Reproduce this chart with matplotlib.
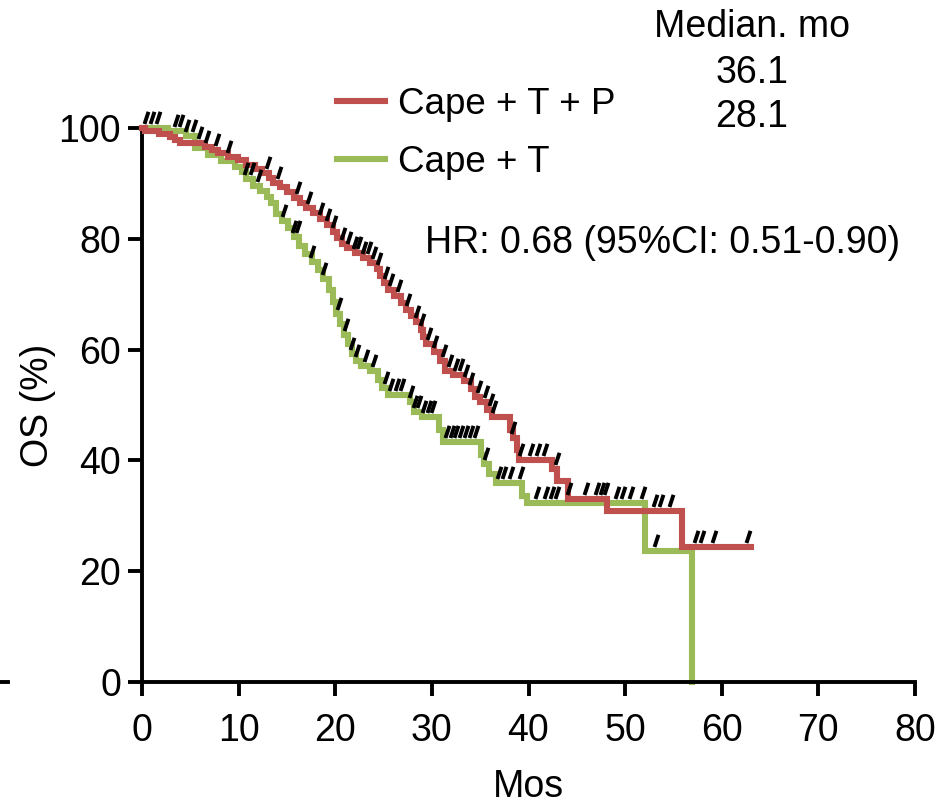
import numpy as np
import matplotlib
matplotlib.use("Agg")
import matplotlib.pyplot as plt
from matplotlib.path import Path
from matplotlib.lines import Line2D

plt.rcParams["font.family"] = ["Liberation Sans", "DejaVu Sans"]

# Kaplan-Meier steps: time of drop (months) and survival (%) after the drop
red_t = [0, 0.3, 1.8, 2.9, 3.4, 3.9, 6.5, 7.2, 7.9, 8.9, 9.9, 10.8, 11.7, 12.4,
         13.1, 13.6, 14.3, 15.0, 15.7, 16.4, 17.0, 17.7, 18.4, 19.1, 19.8, 20.2,
         20.7, 21.2, 22.0, 22.9, 23.6, 24.3, 24.6, 25.0, 25.5, 26.1, 26.8, 27.3,
         27.8, 28.4, 28.9, 29.1, 29.4, 30.2, 30.8, 31.4, 32.2, 33.3, 34.0, 34.5,
         35.0, 35.7, 36.2, 38.1, 38.4, 38.8, 39.0, 42.4, 43.0, 44.1, 48.1, 55.9]
red_s = [100, 99.4, 99.0, 98.4, 97.8, 97.3, 96.6, 96.0, 95.4, 94.8, 94.2, 93.3,
         92.6, 91.8, 91.0, 90.0, 89.3, 88.5, 87.4, 86.5, 85.5, 84.6, 83.6, 82.5,
         81.2, 80.1, 79.0, 78.3, 77.4, 76.5, 75.6, 74.6, 73.2, 72.0, 70.8, 69.7,
         68.5, 67.1, 66.0, 65.0, 63.6, 62.3, 61.0, 59.6, 58.0, 56.1, 55.4, 54.4,
         52.9, 51.4, 50.6, 49.1, 47.8, 45.5, 44.0, 41.8, 40.0, 38.4, 36.3, 33.0,
         30.8, 24.3]
red_end = 63.0
red_cens = [6.0, 6.7, 7.8, 9.0, 13.0, 14.2, 16.1, 17.3, 18.5, 19.2, 19.9, 20.8,
            21.4, 22.0, 22.5, 23.0, 23.5, 24.0, 24.5, 25.3, 25.8, 26.6, 27.5,
            28.5, 29.0, 29.7, 30.3, 31.3, 31.9, 32.5, 33.0, 33.5, 34.0, 34.9,
            35.6, 36.1, 36.4, 38.4, 39.2, 40.3, 41.0, 41.7, 42.9, 44.2, 45.9,
            47.1, 47.6, 48.0, 53.1, 53.7, 54.7, 57.3, 58.0, 59.2, 62.7]

green_t = [0, 2.7, 4.6, 5.5, 6.8, 8.2, 9.6, 10.3, 10.8, 11.5, 12.2, 12.9, 13.4,
           13.9, 14.5, 15.1, 15.7, 16.2, 16.9, 17.6, 18.2, 18.7, 19.4, 19.8,
           20.1, 20.5, 20.9, 21.3, 21.7, 22.1, 22.7, 23.6, 24.4, 24.8, 25.5,
           27.7, 28.1, 29.0, 30.7, 31.1, 35.1, 35.4, 35.9, 36.6, 39.3, 39.8,
           52.1, 56.9]
green_s = [100, 99.4, 98.5, 96.4, 95.2, 94.0, 93.0, 92.0, 90.8, 89.6, 88.6, 87.6,
           86.5, 84.5, 83.2, 81.9, 80.3, 78.7, 77.2, 75.8, 74.4, 72.8, 70.8, 68.6,
           66.5, 64.6, 62.7, 61.0, 59.2, 58.0, 57.0, 56.2, 54.5, 53.0, 51.8, 50.5,
           48.8, 47.8, 45.5, 43.3, 41.0, 39.3, 37.5, 36.0, 33.6, 32.3, 23.6, 0]
green_end = 56.9
green_cens = [0.4, 1.0, 1.7, 3.5, 4.0, 4.7, 5.4, 10.8, 11.4, 12.1, 14.7, 15.7,
              16.1, 17.6, 18.8, 20.4, 21.1, 21.7, 22.2, 23.2, 24.0, 25.3, 25.8,
              26.4, 26.9, 27.8, 28.3, 28.7, 29.2, 29.7, 30.1, 31.6, 32.1, 32.5,
              33.0, 33.5, 34.0, 34.6, 35.6, 36.9, 37.5, 38.2, 39.2, 40.9, 41.8,
              42.4, 43.0, 49.2, 49.8, 50.6, 51.9, 53.2]

labels = ["Cape + T + P", "Cape + T"]
colors = ["#C0504D", "#9BBB59"]
x_ticks = [0, 10, 20, 30, 40, 50, 60, 70, 80]
y_ticks = [0, 20, 40, 60, 80, 100]

W, H = 952, 805
FS = 27


def surv_at(times, surv, t):
    idx = np.searchsorted(times, t, side="right") - 1
    return np.asarray(surv)[idx]


# slanted censor tick sitting above the curve
cens_marker = Path([(-0.12, 0.27), (0.12, 1.0)], [Path.MOVETO, Path.LINETO])

fig = plt.figure(figsize=(W / 100, H / 100), dpi=100)
ax = fig.add_axes([142 / W, (H - 682) / H, (915 - 142) / W, (682 - 128) / H])

curves = [(green_t, green_s, green_end, green_cens, 1),
          (red_t, red_s, red_end, red_cens, 0)]
handles = {}
for t, s, end, cens, k in curves:
    xs = list(t) + [end]
    ys = list(s) + [s[-1]]
    ln, = ax.step(xs, ys, where="post", color=colors[k], lw=4.4,
                  solid_joinstyle="miter", clip_on=False, zorder=2 + (1 - k))
    handles[k] = ln
    cy = surv_at(t, s, np.array(cens))
    ax.plot(cens, cy, linestyle="none", marker=cens_marker, markersize=24,
            markeredgewidth=2.8, markeredgecolor="black", clip_on=False,
            zorder=5)

ax.set_xlim(0, 80)
ax.set_ylim(0, 100)
ax.set_xticks(x_ticks)
ax.set_yticks(y_ticks)
ax.tick_params(axis="both", direction="out", length=10, width=2.8,
               labelsize=FS, pad=5)
ax.tick_params(axis="x", pad=12)
for side in ["top", "right"]:
    ax.spines[side].set_visible(False)
for side in ["left", "bottom"]:
    ax.spines[side].set_linewidth(2.8)
    ax.spines[side].set_capstyle("projecting")

ax.legend([handles[0], handles[1]], labels, loc="upper left",
          bbox_to_anchor=(337 / W, 1 - 87 / H), bbox_transform=fig.transFigure,
          frameon=False, fontsize=26.5, handlelength=1.3, handletextpad=0.35,
          labelspacing=0.62, borderpad=0, borderaxespad=0)
for ln in ax.get_legend().get_lines():
    ln.set_linewidth(4.4)

fig.text(752 / W, 1 - 27 / H, "Median. mo", ha="center", va="center", fontsize=FS)
fig.text(752 / W, 1 - 73 / H, "36.1", ha="center", va="center", fontsize=FS)
fig.text(752 / W, 1 - 117 / H, "28.1", ha="center", va="center", fontsize=FS)
fig.text(425 / W, 1 - 243 / H, "HR: 0.68 (95%CI: 0.51-0.90)", ha="left",
         va="center", fontsize=FS)
fig.text(38 / W, 1 - 405 / H, "OS (%)", ha="center", va="center", fontsize=FS,
         rotation=90)
fig.text(528 / W, 1 - 787 / H, "Mos", ha="center", va="center", fontsize=FS)

fig.add_artist(Line2D([0, 8 / W], [1 - 682 / H] * 2, color="black", lw=2.8))

fig.savefig("out.png", dpi=100)
